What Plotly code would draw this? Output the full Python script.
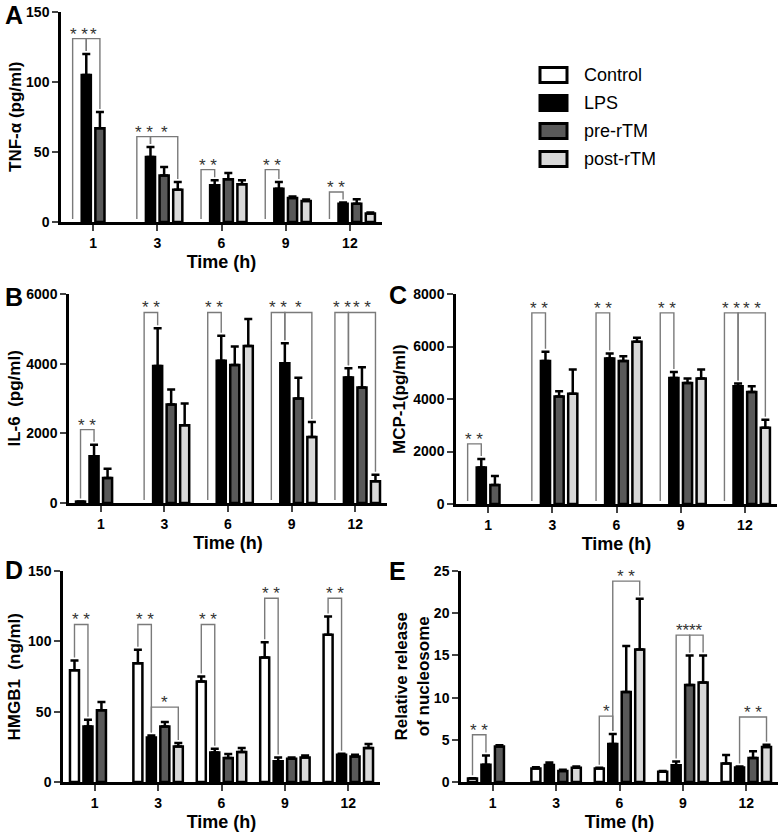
import plotly.graph_objects as go

W, H = 784, 837
FONT = "Liberation Sans, Arial, sans-serif"

times = ["1", "3", "6", "9", "12"]
groups = ["Control", "LPS", "pre-rTM", "post-rTM"]
colors = ["#ffffff", "#000000", "#595959", "#d9d9d9"]

# ---- Panel A: TNF-alpha (pg/ml)
tnf_control = [None, None, None, None, None]
tnf_control_err = [0, 0, 0, 0, 0]
tnf_lps = [105, 46.4, 26.2, 23.8, 13.1]
tnf_lps_err = [15, 7.2, 3.6, 4.8, 0.8]
tnf_pre = [67, 33.3, 30.5, 17.1, 13]
tnf_pre_err = [11.5, 6, 4.5, 1.2, 3.2]
tnf_post = [None, 23.1, 26.9, 15, 6]
tnf_post_err = [0, 5.5, 2.9, 1, 0.7]

# ---- Panel B: IL-6 (pg/ml)
il6_control = [40, None, None, None, None]
il6_control_err = [0, 0, 0, 0, 0]
il6_lps = [1340, 3933, 4087, 4010, 3606]
il6_lps_err = [335, 1086, 711, 577, 259]
il6_pre = [718, 2827, 3962, 3000, 3317]
il6_pre_err = [267, 433, 528, 596, 577]
il6_post = [None, 2231, 4510, 1894, 625]
il6_post_err = [0, 625, 769, 433, 183]

# ---- Panel C: MCP-1 (pg/ml)
mcp_control = [None, None, None, None, None]
mcp_control_err = [0, 0, 0, 0, 0]
mcp_lps = [1387, 5452, 5541, 4800, 4484]
mcp_lps_err = [331, 344, 191, 230, 102]
mcp_pre = [725, 4100, 5452, 4611, 4267]
mcp_pre_err = [344, 200, 179, 166, 217]
mcp_post = [None, 4200, 6178, 4777, 2904]
mcp_post_err = [0, 920, 153, 344, 306]

# ---- Panel D: HMGB1 (ng/ml)
hmg_control = [79.5, 84.5, 71.4, 88.5, 104.6]
hmg_control_err = [6.8, 9.5, 3.6, 10.9, 13]
hmg_lps = [39.5, 31.7, 21, 14.7, 19.4]
hmg_lps_err = [4.7, 1.4, 2.7, 2.8, 0.7]
hmg_pre = [51, 39.5, 17, 16.6, 18.2]
hmg_pre_err = [5.9, 3.1, 2.9, 0.9, 1.2]
hmg_post = [None, 25.3, 21.3, 17.5, 24.1]
hmg_post_err = [0, 2.4, 2.8, 1.4, 2.9]

# ---- Panel E: relative release of nucleosome
nuc_control = [0.4, 1.6, 1.6, 1.2, 2.2]
nuc_control_err = [0.05, 0.15, 0.1, 0.1, 1.0]
nuc_lps = [2.05, 2.0, 4.5, 1.97, 1.73]
nuc_lps_err = [1.1, 0.3, 1.2, 0.45, 0.12]
nuc_pre = [4.2, 1.3, 10.65, 11.5, 2.84]
nuc_pre_err = [0.15, 0.15, 5.45, 3.5, 0.8]
nuc_post = [None, 1.7, 15.7, 11.8, 4.14]
nuc_post_err = [0, 0.15, 6.0, 3.2, 0.26]

# significance brackets: (time index, group a, group b, bracket height, label)
sig_A = [(0, 0, 1, 131, "* *"), (0, 1, 2, 131, "*"), (1, 0, 1, 61, "* *"), (1, 1, 3, 61, "*"),
         (2, 0, 1, 37.4, "* *"), (3, 0, 1, 37.4, "* *"), (4, 0, 1, 21.4, "* *")]
sig_B = [(0, 0, 1, 2106, "* *"), (1, 0, 1, 5471, "* *"), (2, 0, 1, 5471, "* *"),
         (3, 0, 1, 5471, "* *"), (3, 1, 3, 5471, "*"), (4, 0, 1, 5471, "* *"), (4, 1, 3, 5471, "* *")]
sig_C = [(0, 0, 1, 2290, "* *"), (1, 0, 1, 7280, "* *"), (2, 0, 1, 7280, "* *"),
         (3, 0, 1, 7280, "* *"), (4, 0, 1, 7280, "* *"), (4, 1, 3, 7280, "* *")]
sig_D = [(0, 0, 1, 112, "* *"), (1, 0, 1, 112, "* *"), (1, 1, 3, 53.2, "*"),
         (2, 0, 1, 112, "* *"), (3, 0, 1, 130.6, "* *"), (4, 0, 1, 130.6, "* *")]
sig_E = [(0, 0, 1, 5.6, "* *"), (2, 0, 1, 7.8, "*"), (2, 1, 3, 23.8, "* *"),
         (3, 1, 2, 17.4, "**"), (3, 2, 3, 17.4, "**"), (4, 1, 3, 7.7, "* *")]

panels = [
    dict(letter="A", title="TNF-α (pg/ml)", ymax=150, dtick=50,
         series=[(tnf_control, tnf_control_err), (tnf_lps, tnf_lps_err), (tnf_pre, tnf_pre_err), (tnf_post, tnf_post_err)],
         sig=sig_A, px=(61, 382), py=(12, 222), letter_pos=(14, 15), title_x=16),
    dict(letter="B", title="IL-6  (pg/ml)", ymax=6000, dtick=2000,
         series=[(il6_control, il6_control_err), (il6_lps, il6_lps_err), (il6_pre, il6_pre_err), (il6_post, il6_post_err)],
         sig=sig_B, px=(69, 387), py=(294, 503), letter_pos=(14, 297), title_x=14),
    dict(letter="C", title="MCP-1(pg/ml)", ymax=8000, dtick=2000,
         series=[(mcp_control, mcp_control_err), (mcp_lps, mcp_lps_err), (mcp_pre, mcp_pre_err), (mcp_post, mcp_post_err)],
         sig=sig_C, px=(456, 777), py=(294, 504), letter_pos=(398, 295), title_x=400),
    dict(letter="D", title="HMGB1  (ng/ml)", ymax=150, dtick=50,
         series=[(hmg_control, hmg_control_err), (hmg_lps, hmg_lps_err), (hmg_pre, hmg_pre_err), (hmg_post, hmg_post_err)],
         sig=sig_D, px=(63, 380), py=(571, 782), letter_pos=(14, 570), title_x=14),
    dict(letter="E", title="Relative release<br>of nucleosome", ymax=25, dtick=5,
         series=[(nuc_control, nuc_control_err), (nuc_lps, nuc_lps_err), (nuc_pre, nuc_pre_err), (nuc_post, nuc_post_err)],
         sig=sig_E, px=(461, 778), py=(571, 782), letter_pos=(397, 571), title_x=412),
]

BARGAP = 0.15
SLOT = (1 - BARGAP) / len(groups)

fig = go.Figure()
shapes = []
annotations = []
layout = {}

for i, p in enumerate(panels):
    n = "" if i == 0 else str(i + 1)
    xa, ya = "x" + n, "y" + n
    for g, (vals, errs) in enumerate(p["series"]):
        fig.add_trace(go.Bar(
            x=list(range(len(times))), y=vals, name=groups[g], xaxis=xa, yaxis=ya,
            marker=dict(color=colors[g], line=dict(color="black", width=2.5)),
            error_y=dict(type="data", array=errs, arrayminus=[0] * len(errs), symmetric=False,
                         color="black", thickness=2.5, width=4),
            showlegend=False, offsetgroup=str(g),
        ))
    x0, x1 = p["px"]
    y0, y1 = p["py"]
    layout["xaxis" + n] = dict(
        domain=[x0 / W, x1 / W], anchor=ya, range=[-0.5, len(times) - 0.5], automargin=False,
        tickvals=list(range(len(times))), ticktext=times, ticks="outside", ticklen=6, tickwidth=2,
        showline=True, linewidth=2.5, linecolor="black", showgrid=False, zeroline=False,
        tickfont=dict(family=FONT, size=14, color="black", weight="bold"),
        title=dict(text="Time (h)", font=dict(family=FONT, size=18, color="black", weight="bold"), standoff=6),
    )
    layout["yaxis" + n] = dict(
        domain=[1 - y1 / H, 1 - y0 / H], anchor=xa, range=[0, p["ymax"]], dtick=p["dtick"], automargin=False,
        ticks="outside", ticklen=6, tickwidth=2, showline=True, linewidth=2.5, linecolor="black",
        showgrid=False, zeroline=False,
        tickfont=dict(family=FONT, size=14, color="black", weight="bold"),
    )
    annotations.append(dict(
        text=p["title"], xref="paper", yref="paper", x=p["title_x"] / W, y=1 - (y0 + y1) / 2 / H,
        textangle=-90, showarrow=False, xanchor="center", yanchor="middle",
        font=dict(family=FONT, size=17, color="black", weight="bold"),
    ))
    annotations.append(dict(
        text=p["letter"], xref="paper", yref="paper", x=p["letter_pos"][0] / W, y=1 - p["letter_pos"][1] / H,
        showarrow=False, xanchor="center", yanchor="middle",
        font=dict(family=FONT, size=25, color="black", weight="bold"),
    ))
    gap = 3.0 / (y1 - y0) * p["ymax"]
    def top(t, g, p=p):
        v, e = p["series"][g]
        return (v[t] or 0) + (e[t] or 0)
    for (t, ga, gb, yb, lab) in p["sig"]:
        xa_ = t + (ga - 1.5) * SLOT
        xb_ = t + (gb - 1.5) * SLOT
        ba = top(t, ga) + gap
        bb = top(t, gb) + gap
        shapes.append(dict(type="path", xref=xa, yref=ya,
                           path=f"M{xa_},{ba} L{xa_},{yb} L{xb_},{yb} L{xb_},{bb}",
                           line=dict(color="#7a7a7a", width=1.4)))
        annotations.append(dict(text=lab, xref=xa, yref=ya, x=(xa_ + xb_) / 2, y=yb,
                                showarrow=False, xanchor="center", yanchor="bottom", yshift=-7,
                                font=dict(family=FONT, size=17, color="#333333")))

leg_y = [75, 103, 131, 159]
for g, name in enumerate(groups):
    shapes.append(dict(type="rect", xref="paper", yref="paper",
                       x0=540 / W, x1=567 / W, y0=1 - (leg_y[g] + 7.5) / H, y1=1 - (leg_y[g] - 7.5) / H,
                       fillcolor=colors[g], line=dict(color="black", width=3)))
    annotations.append(dict(text=name, xref="paper", yref="paper", x=582 / W, y=1 - leg_y[g] / H,
                            showarrow=False, xanchor="left", yanchor="middle",
                            font=dict(family=FONT, size=18, color="black")))

fig.update_layout(
    template="none",
    width=W, height=H, margin=dict(l=0, r=0, t=0, b=0),
    paper_bgcolor="white", plot_bgcolor="white",
    barmode="group", bargap=BARGAP, bargroupgap=0.33,
    shapes=shapes, annotations=annotations, **layout,
)

fig.write_html("out.html", config={"displayModeBar": False},
               post_script="document.body.style.margin='0';document.body.style.overflow='hidden';")
